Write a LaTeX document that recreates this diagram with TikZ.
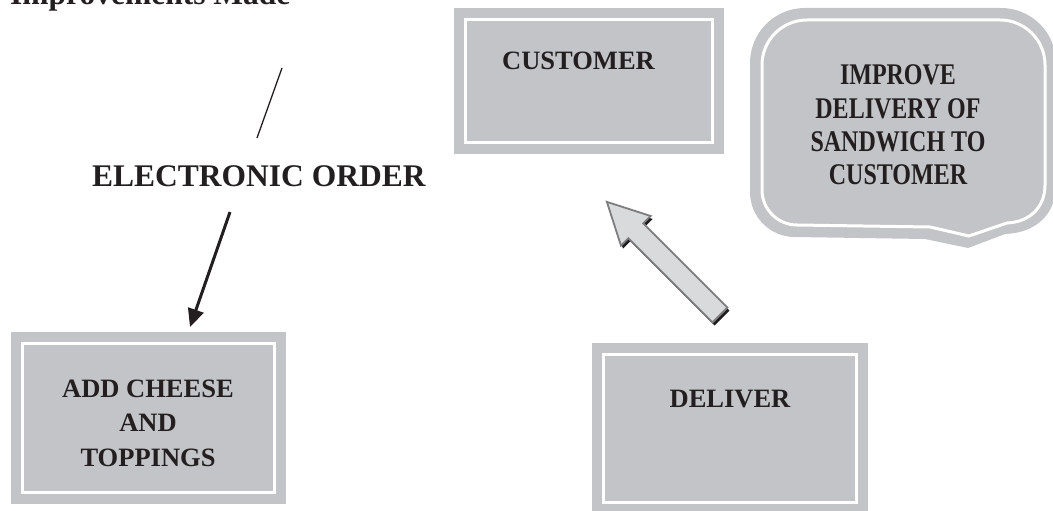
\documentclass[tikz,border=0pt]{standalone}
\usepackage{fontspec}
\setmainfont{Liberation Serif}
\newfontfamily\narrowserif[FakeStretch=0.8]{Liberation Serif}
\usetikzlibrary{arrows.meta}
\definecolor{boxgray}{RGB}{195,196,200}
\definecolor{arrowfill}{RGB}{217,218,220}
\definecolor{arrowedge}{RGB}{125,125,128}
\definecolor{shadowink}{RGB}{30,28,28}
\definecolor{ink}{RGB}{35,31,32}

\begin{document}
\begin{tikzpicture}[x=1pt,y=-1pt,
  panel/.style={rectangle, fill=boxgray, draw=white, line width=3pt, inner sep=0pt,
    preaction={draw=boxgray, line width=23pt}},
  boxtext/.style={font=\fontsize{26.5}{34.5}\selectfont\bfseries, text=ink,
    inner sep=0pt, align=center},
  bubbletext/.style={font=\narrowserif\fontsize{30}{33.2}\selectfont\bfseries, text=ink,
    inner sep=0pt, align=center},
  headline/.style={font=\fontsize{31.5}{36}\selectfont\bfseries, text=ink, inner sep=0pt},
  thinline/.style={draw=ink, line width=1.3pt},
  flow/.style={draw=ink, line width=3pt, -{Triangle[length=18pt,width=16pt]}},
  blockarrow/.style={fill=arrowfill, draw=arrowedge, line width=1.8pt, line join=miter}]
\useasboundingbox (0,0) rectangle (1053,511);

% heading, partly above the page
\node[headline, anchor=base west] (title) at (10,5) {Improvements Made};

% free-standing stroke and the order label
\coordinate (stroke top) at (282,68);
\coordinate (stroke bottom) at (257,138);
\draw[thinline] (stroke top) -- (stroke bottom);
\node[headline, anchor=base west] (order) at (92,186) {ELECTRONIC ORDER};

% process boxes
\node[panel, minimum width=252pt, minimum height=149pt] (add) at (148,417.5) {};
\node[boxtext] (addtext) at (148,423) {ADD CHEESE\\AND\\TOPPINGS};

\node[panel, minimum width=247pt, minimum height=122pt] (cust) at (588.5,81) {};
\node[boxtext, anchor=base] (custtext) at (578.5,70) {CUSTOMER};

\node[panel, minimum width=253pt, minimum height=148pt] (deliver) at (729.5,428) {};
\node[boxtext, anchor=base] (delivertext) at (730,407) {DELIVER};

% order -> add cheese
\coordinate (order out) at (230,212);
\coordinate (add in) at (190,327);
\draw[flow] (order out) -- (add in);

% deliver -> customer block arrow, with a dark drop shadow
\begin{scope}[shift={(722,318)}, rotate=135]
  \fill[shadowink] (0,-10.5) -- (119,-10.5) -- (119,-21) -- (160,0)
    -- (119,21) -- (119,10.5) -- (0,10.5) -- cycle;
\end{scope}
\begin{scope}[shift={(720,315)}, rotate=135]
  \path[blockarrow] (0,-10.5) -- (119,-10.5) -- (119,-21) -- (160,0)
    -- (119,21) -- (119,10.5) -- (0,10.5) -- cycle;
\end{scope}

% speech bubble: rounded outer body with a shallow tail, white inner rule
\fill[boxgray] (750,63) .. controls (750,32.6) and (774.6,8) .. (805,8) -- (1001,8)
  .. controls (1031.4,8) and (1056,32.6) .. (1056,63) -- (1056,185)
  .. controls (1056,215) and (1035,233) .. (1005,234) -- (968,248) -- (925,239)
  -- (795,237) .. controls (770,237) and (750,217) .. (750,192) -- cycle;
\draw[white, line width=3pt, line join=miter]
  (762,65) .. controls (762,40.1) and (782.1,20) .. (807,20) -- (1000,20)
  .. controls (1024.9,20) and (1045,40.1) .. (1045,65) -- (1045,185)
  .. controls (1045,207) and (1030,222) .. (1007,223) -- (969,236) -- (930,227)
  -- (797,225) .. controls (777.7,225) and (762,209.3) .. (762,190) -- cycle;
\node[bubbletext] (goal) at (898,125) {IMPROVE\\DELIVERY OF\\SANDWICH TO\\CUSTOMER};
\end{tikzpicture}
\end{document}
